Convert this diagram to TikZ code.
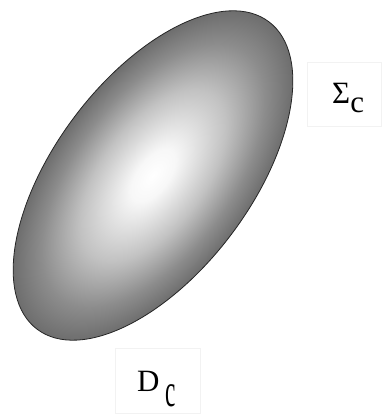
\documentclass[tikz,border=0pt]{standalone}
\usepackage{fontspec}
\setmainfont{Liberation Serif}
\usepackage{graphicx}
\pgfdeclareradialshading{ellshade}{\pgfpoint{0bp}{0bp}}{color(0bp)=(white); color(4bp)=(white!97!black); color(13bp)=(black!24); color(20bp)=(black!45); color(25bp)=(black!57); color(50bp)=(black!57)}
\begin{document}
\begin{tikzpicture}[x=1pt,y=1pt,
  lbl/.style={font=\fontsize{31}{31}\selectfont, inner sep=0pt},
  lblbox/.style={draw=black!5, line width=0.6pt}]
\useasboundingbox (0,0) rectangle (382,414);
\fill[white] (0,0) rectangle (382,414);
\begin{scope}[transform canvas={shift={(153,238.5)}, rotate=53}]
  \shade[shading=ellshade] (0,0) ellipse (192.5 and 98);
  \draw[black!85, line width=0.8pt] (0,0) ellipse (192.5 and 98);
\end{scope}
\draw[lblbox] (307,288) rectangle (381.5,352);
\draw[lblbox] (115,0.5) rectangle (200,66);
\node[lbl, anchor=base west] (sig) at (332,310) {Σ\raisebox{-9pt}{c}};
\node[lbl, anchor=base west] (dc) at (137,22) {D\hspace{6pt}\raisebox{-15pt}{\scalebox{0.75}[1.5]{c}}};
\end{tikzpicture}
\end{document}
